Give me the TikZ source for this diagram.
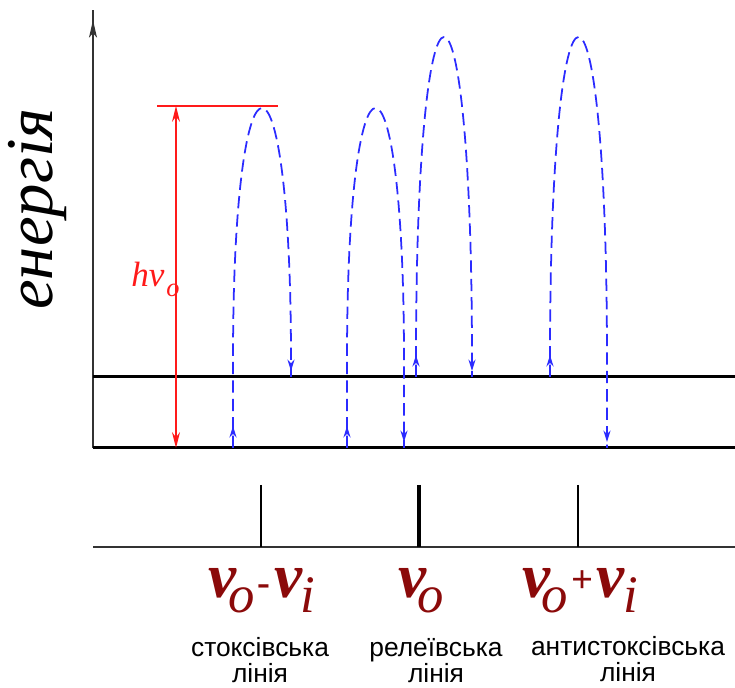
\documentclass[tikz,border=0pt]{standalone}
\usepackage{fontspec}
\setmainfont{Liberation Serif}
\setsansfont{Liberation Sans}
\usetikzlibrary{arrows.meta,decorations.markings}
\definecolor{ax}{HTML}{333333}
\definecolor{jmp}{HTML}{2B2BFF}
\definecolor{pump}{HTML}{FF1A1A}
\definecolor{freq}{HTML}{8B0A0A}
\tikzset{
  level/.style={line width=1.7pt,black},
  axis/.style={line width=1.1pt,ax},
  jump/.style={jmp,line width=1pt,dash pattern=on 7pt off 3.5pt},
  tipat/.style={postaction={decorate,decoration={markings,
    mark=at position #1 with {\arrow{Stealth[length=6.5pt,width=4pt]}}}}},
  axtip/.style={postaction={decorate,decoration={markings,
    mark=at position #1 with {\arrow{Stealth[length=10pt,width=4.5pt,inset=2.5pt]}}}}},
  pumparr/.style={pump,line width=0.85pt,{Stealth[length=9pt,width=4.5pt]}-{Stealth[length=9pt,width=4.5pt]}},
  freqlbl/.style={text=freq,inner sep=0pt,anchor=base},
  lin/.style={font=\sffamily\fontsize{15}{15}\selectfont,align=center,inner sep=0pt,anchor=base},
}
% one scattering jump: name, start x/y, end x/y, peak y
\newcommand{\jump}[6]{%
  \coordinate (#1s) at (#2,#3);
  \coordinate (#1e) at (#4,#5);
  \draw[jump,tipat=12.5pt,tipat=-3.4pt] (#1s) -- (#2,360)
    .. controls (#2,{(4*#6-360)/3}) and (#4,{(4*#6-360)/3}) .. (#4,360) -- (#1e);}
% spectral line: name, x, width
\newcommand{\sline}[3]{%
  \coordinate (#1t) at (#2,485);
  \coordinate (#1b) at (#2,547);
  \draw[line width=#3] (#1t) -- (#1b);}
% frequency: subscript, kern
\newcommand{\fq}[2]{{\fontsize{36}{36}\selectfont\bfseries\itshape v}\kern#2\raisebox{-8pt}{\fontsize{30}{30}\selectfont\itshape #1}}
\newcommand{\op}[2]{\kern2pt\raisebox{#2}{\fontsize{22}{22}\selectfont\bfseries #1}\kern2pt}

\begin{document}
\begin{tikzpicture}[x=0.02cm,y=-0.02cm]
\useasboundingbox (0,0) rectangle (735,688);
% levels
\coordinate (g0) at (93,448); \coordinate (g1) at (735,448);
\coordinate (v0) at (93,377); \coordinate (v1) at (735,377);
\coordinate (s0) at (93,547); \coordinate (s1) at (735,547);
\coordinate (top) at (93,10);
\draw[axis,axtip=-5.7pt] (g0) -- (top);
\draw[level] (v0) -- (v1);
\draw[level] (g0) -- (g1);
\draw[line width=1pt,ax] (s0) -- (s1);
\node[rotate=90,inner sep=0pt,font=\fontsize{38}{38}\selectfont\itshape] (en) at (38,209) {енергія};
% pump quantum
\coordinate (hl) at (157,106); \coordinate (hr) at (278,106);
\coordinate (pb) at (176,448); \coordinate (pt) at (176,106);
\draw[pump,line width=0.85pt] (hl) -- (hr);
\draw[pumparr] (pb) -- (pt);
\node[text=pump,inner sep=0pt,anchor=base west,font=\fontsize{20}{20}\selectfont\itshape] (hv) at (131,287) {hv\kern1pt\raisebox{-5.5pt}{\fontsize{15}{15}\selectfont o}};
% jumps
\jump{st}{233}{448}{291}{377}{108}
\jump{ra}{347}{448}{404}{448}{108}
\jump{rb}{416}{377}{472}{377}{37}
\jump{as}{550}{377}{607}{448}{37}
% spectrum
\sline{ls}{261}{1.1pt}
\sline{lr}{419}{2pt}
\sline{la}{578}{0.6pt}
\node[freqlbl] (fs) at (262,598) {\fq{o}{-5pt}\op{-}{1.5pt}\fq{i}{-1pt}};
\node[freqlbl] (fr) at (421,598) {\fq{o}{-5pt}};
\node[freqlbl] (fa) at (580,598) {\fq{o}{-5pt}\op{+}{3pt}\fq{i}{-1pt}};
\node[lin] (ts) at (260,683) {стоксівська\\лінія};
\node[lin] (tr) at (436,683) {релеївська\\лінія};
\node[lin] (ta) at (628,682) {антистоксівська\\лінія};
\end{tikzpicture}
\end{document}
